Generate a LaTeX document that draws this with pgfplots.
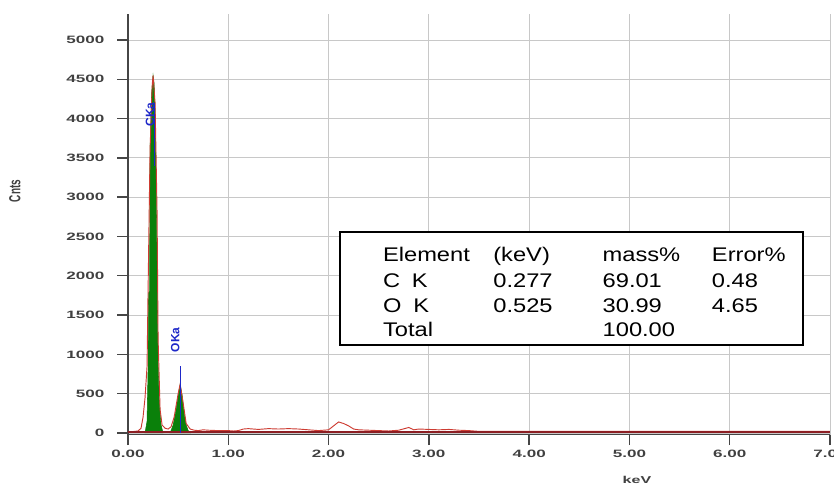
\documentclass[border=0pt]{standalone}
\usepackage{pgfplots}
\pgfplotsset{compat=1.18}
\usepackage{fontspec}
\setmainfont{Liberation Sans}

\definecolor{gridgray}{RGB}{200,200,200}
\definecolor{spinegray}{RGB}{70,70,70}
\definecolor{specred}{RGB}{205,60,50}
\definecolor{basered}{RGB}{140,30,35}
\definecolor{peakgreen}{RGB}{10,128,10}
\definecolor{klmblue}{RGB}{30,40,200}

\begin{document}
\begin{tikzpicture}
  \begin{axis}[
      scale only axis,
      width=526.5pt, height=315.4pt,
      xmin=0, xmax=7, ymin=-20, ymax=5330,
      axis lines=left,
      axis line style={-, spinegray, line width=1.1pt},
      xtick={0,1,...,7},
      ytick={0,500,...,5000},
      tick align=outside,
      major tick length=8pt,
      tick style={spinegray, line width=1pt},
      grid=major,
      major grid style={gridgray, line width=0.6pt},
      xticklabel style={/pgf/number format/.cd, fixed, fixed zerofill, precision=2},
      yticklabel style={xshift=-2.5pt, /pgf/number format/.cd, 1000 sep={}},
      /pgf/number format/assume math mode=true,
      ticklabel style={font=\fontsize{8}{9}\selectfont\bfseries, text=black!75, xscale=1.6},
      xlabel={keV},
      ylabel={Cnts},
      label style={font=\fontsize{7.5}{8}\selectfont\bfseries, text=black!75},
      xlabel style={at={(rel axis cs:0.725,-0.108)}, anchor=center, xscale=1.6},
      ylabel style={at={(rel axis cs:-0.161,0.579)}, anchor=center, yscale=1.6},
      clip=false,
    ]

    % green filled peaks
    \addplot[fill=peakgreen, draw=peakgreen, line width=0.4pt] coordinates {
      (0.17,0) (0.19,150) (0.20,800) (0.205,1780) (0.215,1800) (0.22,3600)
      (0.235,4300) (0.25,4550) (0.26,4450) (0.27,4100) (0.28,3300)
      (0.29,2000) (0.30,900) (0.31,450) (0.32,250) (0.33,100) (0.35,0)
    } -- cycle;
    \addplot[fill=peakgreen, draw=peakgreen, line width=0.4pt] coordinates {
      (0.42,0) (0.45,100) (0.48,300) (0.50,480) (0.52,620) (0.54,480)
      (0.56,250) (0.58,100) (0.60,30) (0.62,0)
    } -- cycle;

    % spectrum trace
    \addplot[specred, line width=0.7pt] coordinates {
      (0,15) (0.05,18) (0.1,25) (0.13,60) (0.15,200) (0.17,450) (0.19,850)
      (0.20,1800) (0.22,3600) (0.24,4400) (0.25,4550) (0.27,4200)
      (0.29,2800) (0.30,1200) (0.32,300) (0.34,100) (0.37,60) (0.40,50)
      (0.43,80) (0.46,200) (0.50,500) (0.52,620) (0.55,380) (0.58,120)
      (0.62,50) (0.66,35) (0.70,30) (0.75,40) (0.8,35) (0.9,30) (1.0,30)
      (1.05,25) (1.1,30) (1.15,50) (1.2,55) (1.3,45) (1.4,55) (1.5,50)
      (1.6,55) (1.7,50) (1.8,40) (1.9,30) (2.0,40) (2.05,90) (2.1,140)
      (2.15,120) (2.2,90) (2.25,50) (2.3,40) (2.4,35) (2.5,30) (2.6,25)
      (2.7,35) (2.8,70) (2.85,40) (2.9,50) (3.0,45) (3.1,40) (3.2,45)
      (3.3,35) (3.4,30) (3.5,20) (4.0,20) (5.0,20) (6.0,20) (7.0,20)
    };
    \addplot[basered, line width=1.4pt] coordinates {(0,15) (7,15)};

    % KLM markers
    \addplot[klmblue, line width=0.6pt] coordinates {(0.265,3400) (0.265,4200)};
    \addplot[klmblue, line width=0.6pt] coordinates {(0.525,0) (0.525,850)};
    \node[rotate=90, text=klmblue, font=\fontsize{9}{10}\selectfont\bfseries, inner sep=0pt]
      at (axis cs:0.22,4050) {CKa};
    \node[rotate=90, text=klmblue, font=\fontsize{9}{10}\selectfont\bfseries, inner sep=0pt]
      at (axis cs:0.47,1185) {OKa};

    % results table
    \draw[black, line width=1.4pt, fill=white]
      (axis cs:2.11,1120) rectangle (axis cs:6.73,2557);
    \begin{scope}[every node/.style={anchor=base west, inner sep=0pt,
        xscale=1.2, font=\fontsize{14.8}{16}\selectfont}]
      \node at (axis cs:2.54,2175) {Element};
      \node at (axis cs:3.64,2175) {(keV)};
      \node at (axis cs:4.73,2175) {mass\%};
      \node at (axis cs:5.82,2175) {Error\%};
      \node at (axis cs:2.54,1845) {C\enspace K};
      \node at (axis cs:3.64,1845) {0.277};
      \node at (axis cs:4.73,1845) {69.01};
      \node at (axis cs:5.82,1845) {0.48};
      \node at (axis cs:2.54,1538) {O\enspace K};
      \node at (axis cs:3.64,1538) {0.525};
      \node at (axis cs:4.73,1538) {30.99};
      \node at (axis cs:5.82,1538) {4.65};
      \node at (axis cs:2.54,1222) {Total};
      \node at (axis cs:4.73,1222) {100.00};
    \end{scope}

    \coordinate (BL) at (axis cs:-1.2764,-686);
    \coordinate (TR) at (axis cs:7.040,5508);
  \end{axis}
  \pgfresetboundingbox
  \path[use as bounding box] (BL) rectangle (TR);
\end{tikzpicture}
\end{document}
